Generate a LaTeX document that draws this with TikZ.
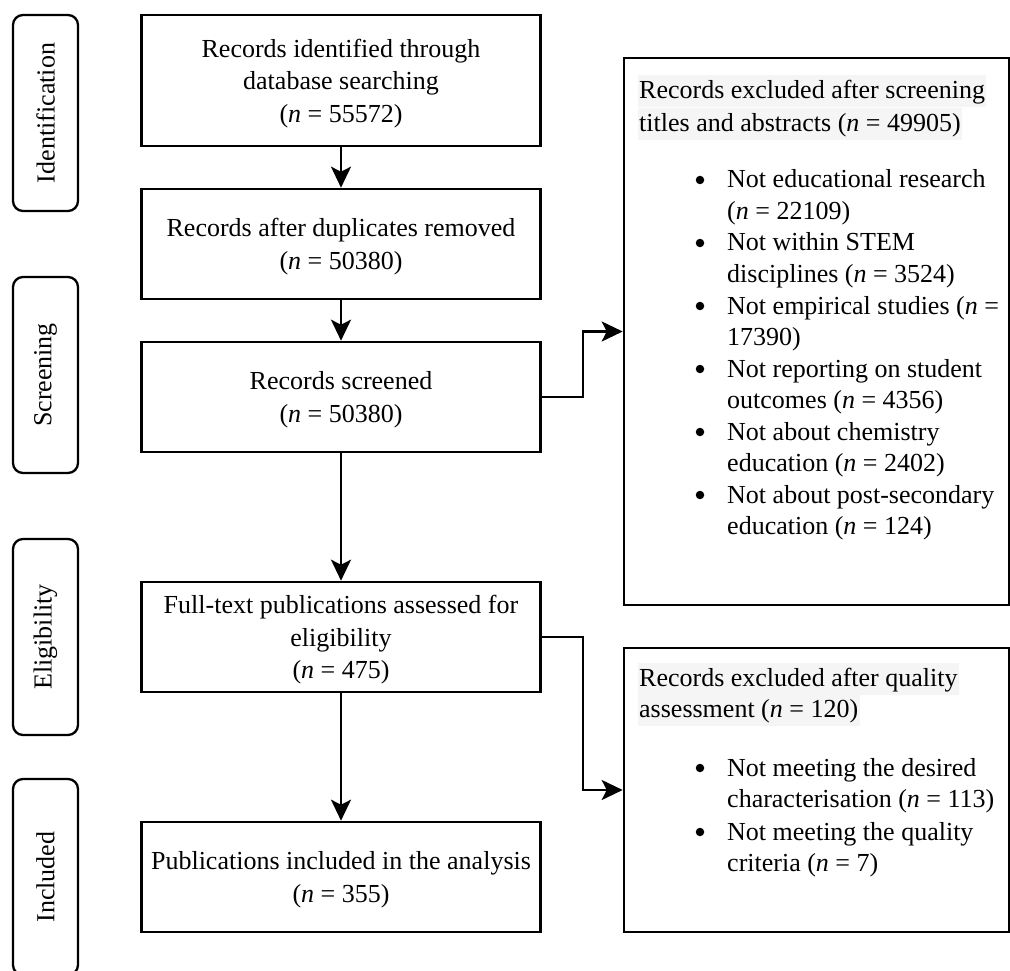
\documentclass[tikz,border=0pt]{standalone}
\usepackage{fontspec}
\setmainfont{Liberation Serif}
\usetikzlibrary{arrows.meta}
\begin{document}
\begin{tikzpicture}[x=1pt,y=-1pt,
  every node/.style={font=\fontsize{26}{31}\selectfont},
  mainbox/.style={draw, line width=2.6pt, minimum width=399pt, minimum height=110pt, inner sep=0pt, align=center, text depth=0pt, font=\fontsize{26}{32.5}\selectfont},
  phasebox/.style={draw, line width=2.3pt, rounded corners=10pt, rotate=90, minimum width=196pt, minimum height=65pt, inner sep=0pt},
  sidebox/.style={draw, line width=2.6pt, minimum width=385pt, inner sep=0pt},
  arr/.style={line width=2.5pt, -{Stealth[length=21pt,width=20pt,inset=5pt]}},
  txt/.style={anchor=base west, inner sep=0pt},
  hl/.style={anchor=base west, fill=black!4, inner xsep=1.5pt, inner ysep=1.5pt, text height=22pt, text depth=7pt},
  bul/.style={circle, fill=black, inner sep=0pt, minimum size=8.5pt}]
\useasboundingbox (0,0) rectangle (1010,971);

% phase labels
\node[phasebox] (pid) at (45.5,113) {Identification};
\node[phasebox] (psc) at (45.5,375) {Screening};
\node[phasebox] (pel) at (45.5,637) {Eligibility};
\node[phasebox] (pin) at (45.5,877) {Included};

% main boxes
\node[mainbox, minimum height=131pt] (b1) at (341,80.5) {Records identified through\\database searching\\(\textit{n} = 55572)};
\node[mainbox] (b2) at (341,244) {Records after duplicates removed\\(\textit{n} = 50380)};
\node[mainbox] (b3) at (341,397) {Records screened\\(\textit{n} = 50380)};
\node[mainbox] (b4) at (341,637) {Full-text publications assessed for\\eligibility\\(\textit{n} = 475)};
\node[mainbox] (b5) at (341,877) {Publications included in the analysis\\(\textit{n} = 355)};

% side boxes
\node[sidebox, minimum height=547pt] (r1) at (816.5,331.5) {};
\node[sidebox, minimum height=284pt] (r2) at (816.5,790) {};

% side box 1 text
\node[hl] (t1a) at (637.5,99) {Records excluded after screening};
\node[hl] (t1b) at (637.5,132) {titles and abstracts (\textit{n} = 49905)};
\node[bul] (u1) at (700,180) {};
\node[txt] (a1) at (727,188) {Not educational research};
\node[txt] (a2) at (727,219.5) {(\textit{n} = 22109)};
\node[bul] (u2) at (700,243) {};
\node[txt] (a3) at (727,251) {Not within STEM};
\node[txt] (a4) at (727,282.5) {disciplines (\textit{n} = 3524)};
\node[bul] (u3) at (700,306) {};
\node[txt] (a5) at (727,314) {Not empirical studies (\textit{n} =};
\node[txt] (a6) at (727,345.5) {17390)};
\node[bul] (u4) at (700,369) {};
\node[txt] (a7) at (727,377) {Not reporting on student};
\node[txt] (a8) at (727,408.5) {outcomes (\textit{n} = 4356)};
\node[bul] (u5) at (700,432) {};
\node[txt] (a9) at (727,440) {Not about chemistry};
\node[txt] (a10) at (727,471.5) {education (\textit{n} = 2402)};
\node[bul] (u6) at (700,495) {};
\node[txt] (a11) at (727,503) {Not about post-secondary};
\node[txt] (a12) at (727,534.5) {education (\textit{n} = 124)};

% side box 2 text
\node[hl] (t2a) at (637.5,686) {Records excluded after quality};
\node[hl] (t2b) at (637.5,717) {assessment (\textit{n} = 120)};
\node[bul] (v1) at (700,768) {};
\node[txt] (c1) at (727,776) {Not meeting the desired};
\node[txt] (c2) at (727,807) {characterisation (\textit{n} = 113)};
\node[bul] (v2) at (700,832) {};
\node[txt] (c3) at (727,840) {Not meeting the quality};
\node[txt] (c4) at (727,871) {criteria (\textit{n} = 7)};

% connectors
\coordinate (k) at (583,0);
\draw[arr] (b1.south) -- (b2.north);
\draw[arr] (b2.south) -- (b3.north);
\draw[arr] (b3.south) -- (b4.north);
\draw[arr] (b4.south) -- (b5.north);
\draw[arr] (b3.east) -| (k |- r1.west) -- (r1.west);
\draw[arr] (b4.east) -| (k |- r2.west) -- (r2.west);
\end{tikzpicture}
\end{document}
